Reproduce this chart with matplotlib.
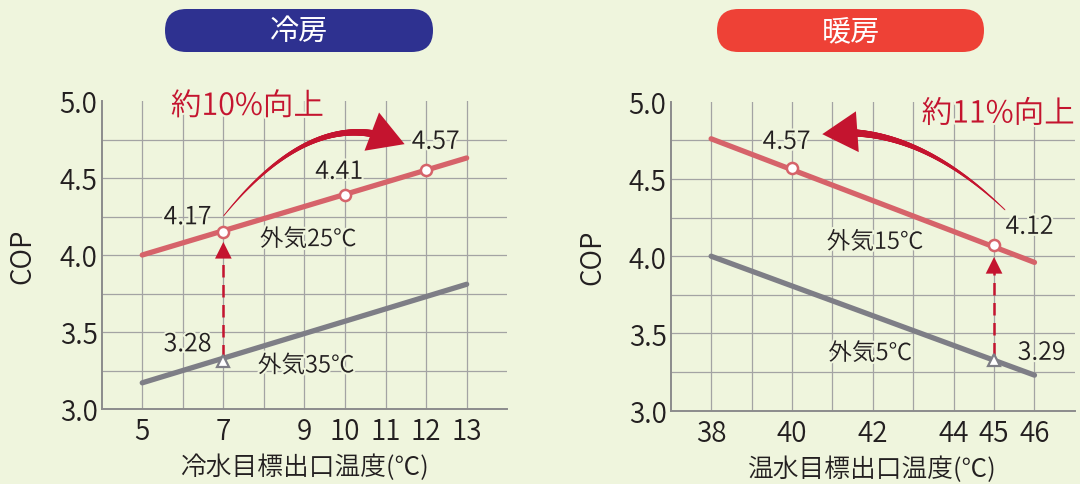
import numpy as np
import matplotlib
matplotlib.use('Agg')
import matplotlib.pyplot as plt
import matplotlib.patheffects as pe
from matplotlib.collections import LineCollection
from matplotlib.patches import FancyBboxPatch

plt.rcParams['font.family'] = ['Noto Sans CJK JP', 'DejaVu Sans']
plt.rcParams['font.weight'] = 360

# --- 冷房 ---
cool_x = [5, 13]
cool_25 = [4.00, 4.63]          # 外気25℃
cool_35 = [3.17, 3.81]          # 外気35℃
cool_pt_x = [7, 10, 12]
cool_pt_y = [4.15, 4.39, 4.55]
cool_pt_lab = ['4.17', '4.41', '4.57']
cool_base_x, cool_base_y, cool_base_lab = 7, 3.31, '3.28'
cool_xticks = [5, 7, 9, 10, 11, 12, 13]

# --- 暖房 ---
heat_x = [38, 46]
heat_15 = [4.76, 3.96]          # 外気15℃
heat_5 = [4.00, 3.23]           # 外気5℃
heat_pt_x = [40, 45]
heat_pt_y = [4.57, 4.07]
heat_pt_lab = ['4.57', '4.12']
heat_base_x, heat_base_y, heat_base_lab = 45, 3.33, '3.29'
heat_xticks = [38, 40, 42, 44, 45, 46]

yticks = [3.0, 3.5, 4.0, 4.5, 5.0]

BG = '#EFF5DD'
RED_LINE = '#D6636A'
GRAY_LINE = '#7E7E86'
CRIMSON = '#C4142F'
GRID = '#A3A3A3'
TXT = '#231F20'

W, H = 1080, 485
fig = plt.figure(figsize=(W / 100, H / 100), dpi=100, facecolor=BG)

halo = [pe.withStroke(linewidth=3, foreground=BG)]


def make_axes(px_left, px_right, px_top, px_bottom, xlim, gridx, xticks, xlabel):
    ax = fig.add_axes([px_left / W, 1 - px_bottom / H,
                       (px_right - px_left) / W, (px_bottom - px_top) / H])
    ax.set_facecolor('none')
    ax.set_xlim(*xlim)
    ax.set_ylim(3.0, 5.0)
    for gx in gridx:
        ax.plot([gx, gx], [3.0, 5.0], color=GRID, lw=0.9, zorder=1)
    for gy in np.arange(3.25, 4.8, 0.25):
        ax.axhline(gy, color=GRID, lw=0.9, zorder=1)
    for s in ['top', 'right']:
        ax.spines[s].set_visible(False)
    for s in ['left', 'bottom']:
        ax.spines[s].set_color('#8C8C8C')
        ax.spines[s].set_linewidth(1.4)
    ax.set_xticks(xticks)
    ax.set_xticklabels([str(t) for t in xticks])
    ax.set_yticks(yticks)
    ax.set_yticklabels(['%.1f' % t for t in yticks])
    ax.tick_params(length=0, labelsize=20, colors=TXT)
    ax.tick_params(axis='x', pad=5)
    ax.tick_params(axis='y', pad=3)
    ax.text(-0.195, 0.5, 'COP', rotation=90, fontsize=20, color=TXT,
            ha='center', va='center', transform=ax.transAxes)
    ax.text(0.5, -0.188, xlabel, fontsize=18.5, color=TXT,
            ha='center', va='center', transform=ax.transAxes)
    return ax


def curved_arrow(ax, p0, p1, p2):
    t = np.linspace(0, 1, 200)[:, None]
    pts = (1 - t) ** 2 * np.array(p0) + 2 * (1 - t) * t * np.array(p1) + t ** 2 * np.array(p2)
    disp = ax.transData.transform(pts)
    dist = np.hypot(*(disp - disp[-1]).T)
    keep = dist > 22
    shaft = pts[keep]
    segs = np.stack([shaft[:-1], shaft[1:]], axis=1)
    lc = LineCollection(segs, colors=CRIMSON,
                        linewidths=np.linspace(0.6, 5.5, len(segs)),
                        capstyle='round', zorder=6)
    ax.add_collection(lc)
    ax.annotate('', xy=p2, xytext=shaft[-1],
                arrowprops=dict(arrowstyle='-|>,head_length=0.55,head_width=0.32',
                                mutation_scale=46, color=CRIMSON, lw=0,
                                shrinkA=0, shrinkB=0), zorder=6)


def dashed_arrow(ax, x, y0, y1, tip):
    ax.plot([x, x], [y0, y1], color=CRIMSON, lw=1.8, dashes=(5, 3), zorder=4)
    ax.annotate('', xy=(x, tip), xytext=(x, y1),
                arrowprops=dict(arrowstyle='-|>,head_length=0.6,head_width=0.3',
                                mutation_scale=20, color=CRIMSON, lw=0,
                                shrinkA=0, shrinkB=0), zorder=4)


def series(ax, x, red_y, gray_y, px, py, bx, by):
    ax.plot(x, red_y, color=RED_LINE, lw=3.8, solid_capstyle='round', zorder=3)
    ax.plot(x, gray_y, color=GRAY_LINE, lw=3.8, solid_capstyle='round', zorder=3)
    ax.plot(px, py, 'o', ms=8, mfc='white', mec=RED_LINE, mew=1.8, zorder=5)
    ax.plot([bx], [by], '^', ms=8, mfc='white', mec=GRAY_LINE, mew=1.6, zorder=5)


def label(ax, x, y, s, size=18, ha='center', color=TXT):
    ax.text(x, y, s, fontsize=size, color=color, ha=ha, va='center',
            path_effects=halo, zorder=7)


# 冷房 chart
ax1 = make_axes(101.7, 507.2, 102, 410, (4, 14), range(5, 14), cool_xticks,
                '冷水目標出口温度(℃)')
dashed_arrow(ax1, cool_base_x, cool_base_y + 0.03, 4.01, 4.085)
series(ax1, cool_x, cool_25, cool_35, cool_pt_x, cool_pt_y, cool_base_x, cool_base_y)
label(ax1, 6.12, 4.245, cool_pt_lab[0])
label(ax1, 9.86, 4.54, cool_pt_lab[1])
label(ax1, 12.24, 4.735, cool_pt_lab[2])
label(ax1, 6.12, 3.42, cool_base_lab)
label(ax1, 7.9, 4.10, '外気25℃', size=17, ha='left')
label(ax1, 7.85, 3.28, '外気35℃', size=17, ha='left')
label(ax1, 7.59, 4.965, '約10%向上', size=22, color=CRIMSON)
curved_arrow(ax1, (7.01, 4.255), (9.3, 5.0), (11.47, 4.72))

# 暖房 chart
ax2 = make_axes(670.7, 1074.9, 102.7, 411.7, (37, 47), range(38, 47), heat_xticks,
                '温水目標出口温度(℃)')
dashed_arrow(ax2, heat_base_x, heat_base_y + 0.03, 3.92, 3.995)
series(ax2, heat_x, heat_15, heat_5, heat_pt_x, heat_pt_y, heat_base_x, heat_base_y)
label(ax2, 39.87, 4.74, heat_pt_lab[0])
label(ax2, 45.88, 4.19, heat_pt_lab[1])
label(ax2, 46.18, 3.375, heat_base_lab)
label(ax2, 40.86, 4.09, '外気15℃', size=17, ha='left')
label(ax2, 40.9, 3.37, '外気5℃', size=17, ha='left')
label(ax2, 45.1, 4.92, '約11%向上', size=22, color=CRIMSON)
curved_arrow(ax2, (45.27, 4.30), (43.0, 4.87), (40.75, 4.79))

# title pills (pixel coordinates)
top = fig.add_axes([0, 0, 1, 1])
top.set_xlim(0, W)
top.set_ylim(H, 0)
top.axis('off')
top.patch.set_alpha(0)
for x0, x1, c, s in [(165, 433, '#2E3190', '冷房'), (717, 984, '#EE4136', '暖房')]:
    top.add_patch(FancyBboxPatch((x0, 10), x1 - x0, 43,
                                 boxstyle='round,pad=0,rounding_size=21.5',
                                 fc=c, ec='none'))
    top.text((x0 + x1) / 2, 32, s, color='white', fontsize=21, fontweight='normal',
             ha='center', va='center')

fig.savefig('out.png', dpi=100, facecolor=BG)
